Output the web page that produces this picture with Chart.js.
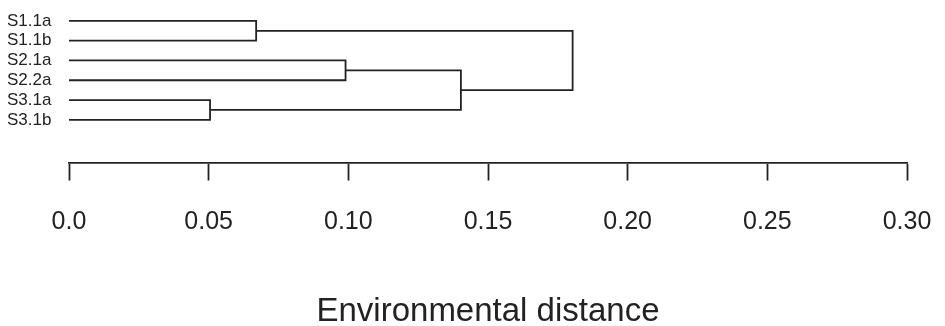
<!DOCTYPE html>
<html lang="en">
    <head>
        <meta charset="UTF-8" />
        <title>Environmental distance dendrogram</title>
        <script src="https://cdn.jsdelivr.net/npm/chart.js"></script>
        <style>
            body { margin: 0; background: #fff; }
        </style>
    </head>
    <body>
        <canvas id="dendro" width="945" height="326"></canvas>

        <script>
            // leaves, top to bottom
            const leaves = ['S1.1a', 'S1.1b', 'S2.1a', 'S2.2a', 'S3.1a', 'S3.1b'];
            // hclust style merges: negative = leaf (1-based), positive = earlier merge
            const mergeLeft = [-1, -5, -3, 3, 1];
            const mergeRight = [-2, -6, -4, 2, 4];
            const mergeHeight = [0.067, 0.0505, 0.099, 0.1403, 0.1803];
            const xTickLabels = ['0.0', '0.05', '0.10', '0.15', '0.20', '0.25', '0.30'];

            const ink = '#222';

            function nodeAt(ref, built) {
                if (ref < 0) return { h: 0, pos: -ref - 1 };
                return built[ref - 1];
            }

            function buildSegments() {
                const built = [];
                const sets = [];
                for (let i = 0; i < mergeHeight.length; i++) {
                    const a = nodeAt(mergeLeft[i], built);
                    const b = nodeAt(mergeRight[i], built);
                    const h = mergeHeight[i];
                    sets.push({
                        data: [
                            { x: a.h, y: a.pos },
                            { x: h, y: a.pos },
                            { x: h, y: b.pos },
                            { x: b.h, y: b.pos }
                        ],
                        showLine: true,
                        borderColor: ink,
                        borderWidth: 1.8,
                        pointRadius: 0,
                        tension: 0
                    });
                    built.push({ h: h, pos: (a.pos + b.pos) / 2 });
                }
                return sets;
            }

            new Chart(document.getElementById('dendro'), {
                type: 'scatter',
                data: { datasets: buildSegments() },
                options: {
                    responsive: false,
                    animation: false,
                    layout: { padding: { left: 7, right: 38, top: 0, bottom: 1 } },
                    plugins: { legend: { display: false }, tooltip: { enabled: false } },
                    scales: {
                        x: {
                            type: 'linear',
                            position: 'bottom',
                            min: 0,
                            max: 0.3,
                            afterFit: (scale) => {
                                scale.paddingLeft = 0;
                                scale.paddingRight = 0;
                            },
                            ticks: {
                                stepSize: 0.05,
                                color: ink,
                                padding: 27,
                                font: { family: 'Liberation Sans', size: 25, lineHeight: 1.2 },
                                callback: (v, i) => xTickLabels[i]
                            },
                            grid: {
                                drawOnChartArea: false,
                                tickLength: 18,
                                tickWidth: 1.8,
                                color: ink
                            },
                            border: { display: true, color: ink, width: 1.8 },
                            title: {
                                display: true,
                                text: 'Environmental distance',
                                color: ink,
                                font: { family: 'Liberation Sans', size: 33, lineHeight: 0.8 },
                                padding: { top: 62.6, bottom: 0 }
                            }
                        },
                        y: {
                            type: 'linear',
                            position: 'left',
                            reverse: true,
                            min: -0.389,
                            max: 7.156,
                            afterBuildTicks: (scale) => {
                                scale.ticks = leaves.map((_, i) => ({ value: i }));
                            },
                            afterFit: (scale) => {
                                scale.width = 62;
                            },
                            ticks: {
                                crossAlign: 'far',
                                color: ink,
                                font: { family: 'Liberation Sans', size: 17 },
                                callback: (v) => leaves[v]
                            },
                            grid: { display: false },
                            border: { display: false }
                        }
                    }
                }
            });
        </script>
    </body>
</html>
